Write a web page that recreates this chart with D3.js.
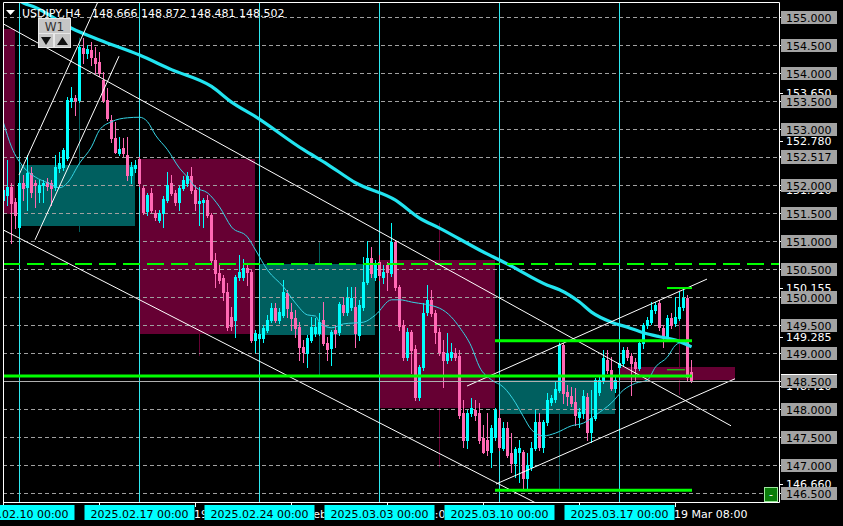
<!DOCTYPE html>
<html><head><meta charset="utf-8">
<script src="https://cdn.jsdelivr.net/npm/d3@7"></script>
<style>html,body{margin:0;padding:0;background:#000;overflow:hidden}svg{display:block}text{font-family:"DejaVu Sans",sans-serif;font-size:11px}</style>
</head><body>
<svg id="c" width="843" height="526"></svg>
<script>
// ---------- DATA ----------
const symbolTitle = "USDJPY,H4";
const titlePrices = "148.666 148.872 148.481 148.502";
const firstBar = -4; // bar index of the first visible H4 candle (0 = 2025.02.10 00:00)
const barOpen = [151.73,151.82,151.96,151.70,
151.25,152.04,151.96,152.21,152.04,151.88,152.00,152.05,152.04,151.96,
152.30,152.32,152.48,153.50,153.55,153.52,154.45,154.36,154.41,154.27,
154.20,153.88,153.52,153.16,152.84,152.57,152.66,152.54,152.18,152.30,
152.46,151.95,151.54,151.86,151.50,151.38,151.50,151.73,152.04,151.86,
151.70,151.95,152.04,152.16,151.91,151.68,151.70,151.73,151.46,150.66,
150.43,150.34,150.09,149.64,149.59,150.36,150.36,150.52,150.45,149.23,
149.27,149.27,149.41,149.59,149.80,149.59,149.68,150.07,149.73,149.63,
149.46,149.11,149.00,149.23,149.36,149.36,149.59,149.18,149.09,149.41,
149.38,149.86,149.73,149.82,149.82,149.32,149.82,150.27,150.70,150.36,
150.63,150.36,150.57,150.43,150.98,150.18,149.50,148.93,149.38,149.07,
148.21,148.75,149.73,149.95,149.71,149.38,149.02,148.88,148.93,149.00,
148.95,147.93,147.45,147.93,147.98,147.93,147.48,147.45,147.23,147.50,
147.84,147.30,147.66,147.21,147.04,147.23,147.23,146.77,146.96,147.30,
147.77,147.32,147.77,148.13,148.18,148.34,149.14,148.30,148.23,148.13,
147.86,147.93,148.21,147.59,147.84,148.30,148.52,148.88,148.70,148.38,
148.75,148.82,149.05,148.95,148.84,148.73,149.18,149.50,149.55,149.77,
149.89,149.45,149.29,149.63,149.54,149.63,149.82,149.98,148.666];
const barHigh = [152.00,152.45,152.04,151.77,
152.09,152.18,152.54,152.32,152.09,152.09,152.09,152.13,152.09,152.54,
152.59,152.66,153.57,153.75,153.61,154.50,154.63,154.50,154.55,154.46,
154.38,154.02,153.73,153.25,153.13,152.86,152.84,152.86,152.41,152.45,
152.50,151.98,151.86,151.95,151.55,151.55,151.80,152.23,152.18,151.91,
151.98,152.16,152.23,152.32,152.00,151.96,151.77,151.82,151.50,150.79,
150.57,150.39,150.25,149.82,150.39,150.75,150.68,150.57,150.48,149.41,
149.41,149.50,149.68,149.89,149.89,149.80,150.30,150.13,149.89,149.77,
149.55,149.23,149.32,149.64,149.63,149.71,149.91,149.29,149.41,149.50,
149.91,150.00,150.18,150.18,150.18,149.95,150.71,151.00,150.89,150.66,
150.75,150.57,150.63,151.32,151.02,150.21,149.59,149.45,149.41,149.14,
148.79,149.89,150.21,150.13,149.77,149.45,149.23,149.36,149.18,149.09,
149.05,148.16,147.98,148.20,148.16,148.11,147.71,147.93,147.71,148.02,
147.98,147.77,147.77,147.57,147.32,147.45,147.27,147.21,147.41,147.98,
147.93,147.80,148.29,148.25,148.48,149.18,149.18,148.43,148.39,148.38,
148.02,148.34,148.29,148.34,148.55,148.61,149.05,149.05,148.93,148.61,
148.88,149.11,149.11,149.00,148.91,149.20,149.54,149.64,149.91,149.91,
149.95,149.50,149.68,149.71,150.00,150.09,150.155,150.04,148.872];
const barLow = [151.64,151.64,150.96,151.23,
151.16,151.73,151.55,151.79,151.61,151.70,151.70,151.91,151.64,151.91,
152.23,152.27,152.45,153.39,153.25,153.48,154.18,154.27,154.14,154.00,
153.95,153.48,153.16,152.77,152.57,152.54,152.52,152.09,152.04,152.23,
151.98,151.48,151.46,151.52,151.38,151.34,151.25,151.70,151.82,151.64,
151.55,151.91,151.98,151.86,151.55,151.29,151.25,151.43,150.63,150.18,
150.25,149.95,149.41,149.41,149.29,150.30,150.30,150.21,149.20,149.02,
149.14,149.20,149.38,149.55,149.55,149.54,149.64,149.64,149.41,149.29,
148.88,148.84,148.75,149.20,149.30,149.32,149.14,148.88,148.79,149.11,
149.32,149.68,149.68,149.77,149.11,149.23,149.77,150.23,150.36,150.30,
150.30,150.25,150.13,150.38,150.13,149.41,148.88,148.88,148.64,148.16,
148.16,148.70,149.68,149.66,149.18,148.96,148.39,148.82,148.88,148.88,
147.84,147.32,147.30,147.88,147.80,147.39,147.21,147.18,146.96,147.45,
147.27,147.27,147.14,146.88,146.79,146.70,146.59,146.59,146.91,147.27,
147.27,147.23,147.71,148.07,148.13,148.30,148.11,148.07,148.05,147.71,
147.68,147.84,147.45,147.41,147.80,148.25,148.46,148.64,148.34,148.30,
148.70,148.77,148.88,148.25,148.52,148.70,149.09,149.45,149.52,149.71,
149.41,149.11,149.23,149.45,149.48,149.59,149.77,148.52,148.481];
const barClose = [151.91,151.96,151.68,151.46,
152.04,151.95,152.21,151.88,152.00,152.00,152.04,151.98,151.95,152.32,
152.39,152.63,153.52,153.55,153.52,154.46,154.36,154.43,154.29,154.18,
154.00,153.52,153.20,152.84,152.59,152.64,152.57,152.18,152.32,152.36,
152.04,151.52,151.82,151.55,151.43,151.50,151.75,152.00,151.86,151.70,
151.95,152.09,152.16,151.91,151.68,151.71,151.73,151.46,150.66,150.43,
150.30,150.09,149.46,149.48,150.36,150.45,150.52,150.45,149.23,149.36,
149.34,149.45,149.59,149.80,149.59,149.73,150.09,149.80,149.63,149.45,
149.11,149.02,149.27,149.46,149.46,149.55,149.18,149.07,149.38,149.36,
149.88,149.73,149.98,149.98,149.36,149.86,150.27,150.70,150.43,150.57,
150.39,150.45,150.45,150.98,150.18,149.48,148.93,149.38,149.05,148.21,
148.75,149.71,149.95,149.71,149.38,149.02,148.88,149.00,149.02,148.93,
147.89,147.45,147.93,148.02,147.89,147.45,147.23,147.27,147.66,147.98,
147.32,147.66,147.18,147.04,147.29,147.30,146.77,147.00,147.30,147.77,
147.32,147.77,148.16,148.20,148.36,149.14,148.29,148.23,148.11,147.89,
147.95,148.23,147.59,147.84,148.52,148.52,148.91,148.70,148.38,148.52,
148.82,149.05,148.93,148.82,148.73,149.18,149.50,149.59,149.77,149.86,
149.46,149.29,149.63,149.50,149.64,149.82,149.98,148.57,148.502];

// slow moving average (bar index, price)
const maSlowBar   = [-1,1,4,13,20,30,38,48,53,59,71,77,84,94,100,105,115,123,132,135,140,143,148,152,156,160,164,168];
const maSlowPrice = [155.33,155.25,155.17,154.80,154.59,154.32,154.06,153.76,153.48,153.22,152.63,152.37,152.04,151.73,151.41,151.23,150.84,150.55,150.21,150.13,149.91,149.73,149.55,149.46,149.36,149.29,149.23,149.11];
// fast moving average (bar index, price)
const maFastBar   = [-4,-2,1,4,7,10,12,15,18,20,23,27,30,32,34,37,40,42,44,47,50,53,57,59,62,66,69,72,74,75,78,81,86,89,93,95,98,105,108,110,113,115,118,121,124,126,128,131,134,138,141,144,148,151,154,157,159,162,164,166,168];
const maFastPrice = [153.11,152.68,152.32,152.14,152.04,151.95,152.04,152.39,152.68,152.98,153.13,153.20,153.21,153.13,152.89,152.63,152.30,152.14,151.96,151.86,151.61,151.25,151.07,150.84,150.48,150.18,149.89,149.68,149.66,149.55,149.45,149.52,149.55,149.68,149.95,149.95,149.91,149.80,149.64,149.46,149.11,148.75,148.52,148.39,148.11,147.86,147.63,147.52,147.57,147.70,147.75,147.89,148.11,148.34,148.46,148.52,148.75,148.93,149.14,149.20,149.11];

// weekly (W1) candles drawn as boxes
const weekStartBar = [-30,0,30,60,90,120,150];
const weekOpen  = [154.79,151.27,152.46,149.32,150.66,147.91,148.75];
const weekHigh  = [154.90,154.63,152.50,150.98,151.32,149.21,150.155];
const weekLow   = [151.10,151.16,148.95,148.60,146.96,146.57,148.25];
const weekClose = [151.48,152.36,149.34,150.59,148.02,148.52,148.52];

// trend lines: [bar, price] -> [bar, price]
const trendFrom = [[-4,154.88],[-4,151.20],[119.25,146.66],[112,148.41],[0,152.18],[4,151.02]];
const trendTo   = [[178,147.70],[129.25,146.32],[179,148.54],[172,150.32],[19.6,155.25],[25,154.30]];

// green horizontal levels
const greenPrice = [148.59,149.22,146.55,150.16,148.70];
const greenFrom  = [-4,119,119,162,162];
const greenTo    = [168.25,168.25,168.25,168.25,166.5];
const greenWidth = [3,3,3,2,1];
const greenDashedPrice = 150.59;
const bidPrice = 148.502;

// axes
const priceTicks = ["155.000","154.500","154.000","153.500","153.000","152.500","152.000","151.500","151.000","150.500","150.000","149.500","149.000","148.500","148.000","147.500","147.000","146.500"];
const extraBoxLabels = ["152.517"];
const lineLabels = ["153.650","152.780","151.910","150.155","149.285","148.410","146.660"];
const separatorBars = [0,30,60,90,120,150];
const separatorLabels = ["2025.02.10 00:00","2025.02.17 00:00","2025.02.24 00:00","2025.03.03 00:00","2025.03.10 00:00","2025.03.17 00:00"];
const timeTickBars = [-4,20,44,68,92,116,140,164];
const timeTickLabels = ["7 Feb 2025","13 Feb 08:00","19 Feb 08:00","25 Feb 08:00","3 Mar 08:00","7 Mar 08:00","13 Mar 08:00","19 Mar 08:00"];

// ---------- DRAW ----------
const BULL="#00ffff", BEAR="#ff69b4", TEAL="#005f5f", CRIM="#660033";
const svg = d3.select("#c");
const x = d3.scaleLinear().domain([0,150]).range([19,619]);
const y = d3.scaleLinear().domain([146.5,155]).range([493,17]);
const PL=3, PR=779, PT=2, PB=502;

svg.append("rect").attr("width",843).attr("height",526).attr("fill","#000");
const defs = svg.append("defs");
defs.append("clipPath").attr("id","plot").append("rect")
  .attr("x",PL+1).attr("y",PT+1).attr("width",PR-PL-1).attr("height",PB-PT-1);
const g = svg.append("g").attr("clip-path","url(#plot)");

// weekly boxes
weekStartBar.forEach((k,i)=>{
  const bull = weekClose[i]>=weekOpen[i];
  const col = bull?TEAL:CRIM;
  const x0 = x(k), x1 = x(k+29);
  const yt = Math.round(y(Math.max(weekOpen[i],weekClose[i]))), yb = Math.round(y(Math.min(weekOpen[i],weekClose[i])));
  g.append("line").attr("x1",x(k+15)+0.5).attr("x2",x(k+15)+0.5)
    .attr("y1",y(weekHigh[i])).attr("y2",y(weekLow[i])).attr("stroke",col).attr("stroke-width",1);
  g.append("rect").attr("x",x0).attr("y",yt).attr("width",x1-x0).attr("height",Math.max(1,yb-yt)).attr("fill",col);
});

// grid
priceTicks.forEach(t=>{
  const yy = Math.round(y(+t))+0.5;
  g.append("line").attr("x1",PL).attr("x2",PR).attr("y1",yy).attr("y2",yy)
    .attr("stroke","#a0a0a0").attr("stroke-width",1).attr("stroke-dasharray","4,3");
});

// period separators
separatorBars.forEach(k=>{
  g.append("line").attr("x1",x(k)+0.5).attr("x2",x(k)+0.5).attr("y1",PT).attr("y2",PB)
    .attr("stroke","#30e8f0").attr("stroke-width",1);
});

// candles
const bars = barOpen.map((o,i)=>({k:firstBar+i,o,h:barHigh[i],l:barLow[i],c:barClose[i]}));
const cg = g.append("g");
bars.forEach(b=>{
  const col = b.c>=b.o?BULL:BEAR;
  const cx = x(b.k);
  cg.append("line").attr("x1",cx+0.5).attr("x2",cx+0.5)
    .attr("y1",Math.round(y(b.h))).attr("y2",Math.round(y(b.l))+1).attr("stroke",col).attr("stroke-width",1);
  const yt = Math.round(y(Math.max(b.o,b.c))), yb = Math.round(y(Math.min(b.o,b.c)));
  cg.append("rect").attr("x",cx-1).attr("y",yt).attr("width",3).attr("height",Math.max(1,yb-yt+1)).attr("fill",col);
});

// moving averages
const lineGen = d3.line().x(d=>x(d[0])+0.5).y(d=>y(d[1])).curve(d3.curveMonotoneX);
g.append("path").datum(maFastBar.map((k,i)=>[k,maFastPrice[i]])).attr("d",lineGen)
  .attr("fill","none").attr("stroke","#35d4e4").attr("stroke-width",1);
g.append("path").datum(maSlowBar.map((k,i)=>[k,maSlowPrice[i]])).attr("d",lineGen)
  .attr("fill","none").attr("stroke","#22e4f0").attr("stroke-width",3.2);

// green dashed level
g.append("line").attr("x1",PL).attr("x2",PR).attr("y1",y(greenDashedPrice)).attr("y2",y(greenDashedPrice))
  .attr("stroke","#00ff00").attr("stroke-width",2).attr("stroke-dasharray","17,7");

// trend lines
trendFrom.forEach((p,i)=>{
  const q = trendTo[i];
  g.append("line").attr("x1",x(p[0])).attr("y1",y(p[1])).attr("x2",x(q[0])).attr("y2",y(q[1]))
    .attr("stroke","#ffffff").attr("stroke-width",1);
});

// green solid levels
greenPrice.forEach((p,i)=>{
  g.append("line").attr("x1",x(greenFrom[i])).attr("x2",x(greenTo[i])).attr("y1",y(p)).attr("y2",y(p))
    .attr("stroke","#00ff00").attr("stroke-width",greenWidth[i]);
});

// bid line
g.append("line").attr("x1",PL).attr("x2",PR).attr("y1",Math.round(y(bidPrice))+0.5).attr("y2",Math.round(y(bidPrice))+0.5)
  .attr("stroke","#b0b0b0").attr("stroke-width",1);

// frame
svg.append("path").attr("d",`M${PL+0.5},${PT+0.5}H${PR+0.5}V${PB+0.5}H${PL+0.5}Z`)
  .attr("fill","none").attr("stroke","#fff").attr("stroke-width",1);

// right axis: price boxes geometry
const boxLabels = priceTicks.concat(extraBoxLabels);
const boxSpans = boxLabels.map(t=>{const yy=Math.round(y(+t)); return [yy-6, yy+7];}).sort((a,b)=>a[0]-b[0]);
const gapClip = defs.append("clipPath").attr("id","axisGaps");
let prevEnd = 0;
boxSpans.forEach(s=>{ if (s[0]>prevEnd) gapClip.append("rect").attr("x",779).attr("y",prevEnd).attr("width",64).attr("height",s[0]-prevEnd); prevEnd=Math.max(prevEnd,s[1]); });
gapClip.append("rect").attr("x",779).attr("y",prevEnd).attr("width",64).attr("height",526-prevEnd);

lineLabels.forEach(t=>{
  const yy = y(+t);
  svg.append("line").attr("x1",PR).attr("x2",PR+4).attr("y1",Math.round(yy)+0.5).attr("y2",Math.round(yy)+0.5).attr("stroke","#fff");
  svg.append("text").attr("x",786).attr("y",yy+4).attr("fill","#fff").attr("clip-path","url(#axisGaps)").text(t);
});
boxLabels.forEach(t=>{
  const yy = Math.round(y(+t));
  svg.append("line").attr("x1",PR).attr("x2",PR+4).attr("y1",yy+0.5).attr("y2",yy+0.5).attr("stroke","#fff");
  svg.append("rect").attr("x",781).attr("y",yy-6).attr("width",56).attr("height",13).attr("fill","#a3a3a3");
  svg.append("text").attr("x",786).attr("y",yy+4.5).attr("fill","#000").text(t);
});
{
  const yy = Math.round(y(bidPrice));
  svg.append("line").attr("x1",781).attr("x2",837).attr("y1",yy-6.5).attr("y2",yy-6.5).attr("stroke","#fff");
}

// time axis: only the parts of the tick labels lying in the gaps between the separator boxes stay visible
const sepHalf = 55;
const gaps = separatorBars.map((k,i)=>[x(k)+0.5+sepHalf, i<separatorBars.length-1 ? x(separatorBars[i+1])+0.5-sepHalf : 843]);
const timeClip = defs.append("clipPath").attr("id","timeGaps");
gaps.forEach(gp=>timeClip.append("rect").attr("x",gp[0]).attr("y",503).attr("width",gp[1]-gp[0]).attr("height",23));
timeTickBars.forEach((k,i)=>{
  svg.append("line").attr("x1",x(k)+0.5).attr("x2",x(k)+0.5).attr("y1",PB).attr("y2",PB+5).attr("stroke","#fff");
  const full = svg.append("text").attr("x",x(k)-1).attr("y",518).attr("fill","#fff").text(timeTickLabels[i]);
  const node = full.node(), label = timeTickLabels[i];
  const runs = []; let cur = null;
  for (let c=0;c<label.length;c++){
    const s = node.getStartPositionOfChar(c).x, e = node.getEndPositionOfChar(c).x, m=(s+e)/2;
    const vis = gaps.some(gp=>m>=gp[0]-1 && m<=gp[1]+1);
    if (vis){ if(!cur){cur={x:s,t:""};runs.push(cur);} cur.t+=label[c]; } else cur=null;
  }
  full.remove();
  runs.forEach(r=>{ if(r.t.trim()) svg.append("text").attr("x",r.x).attr("y",518).attr("fill","#fff")
    .attr("clip-path","url(#timeGaps)").style("white-space","pre").text(r.t); });
});
separatorBars.forEach((k,i)=>{
  const cx = x(k)+0.5;
  svg.append("rect").attr("x",cx-sepHalf).attr("y",505).attr("width",2*sepHalf).attr("height",15).attr("fill","#00ffff");
  svg.append("text").attr("x",cx).attr("y",517.5).attr("text-anchor","middle").attr("fill","#000").text(separatorLabels[i]);
});

// title
svg.append("path").attr("d","M6,10H15L10.5,15Z").attr("fill","#fff");
svg.append("text").attr("x",22).attr("y",17).attr("fill","#fff").text(symbolTitle);
svg.append("text").attr("x",92).attr("y",17).attr("fill","#fff").text(titlePrices);

// W1 button
const wb = svg.append("g");
wb.append("rect").attr("x",38.5).attr("y",18.5).attr("width",32).attr("height",15).attr("fill","#c6c6c6").attr("stroke","#e8e8e8");
wb.append("text").attr("x",54.5).attr("y",30.5).attr("text-anchor","middle").attr("fill","#333").style("font-size","12px").text("W1");
wb.append("rect").attr("x",38.5).attr("y",33.5).attr("width",15).attr("height",14).attr("fill","#c6c6c6").attr("stroke","#e8e8e8");
wb.append("rect").attr("x",54.5).attr("y",33.5).attr("width",16).attr("height",14).attr("fill","#c6c6c6").attr("stroke","#e8e8e8");
wb.append("path").attr("d","M41,37H51L46,45Z").attr("fill","#111");
wb.append("path").attr("d","M57,45H68L62.5,37Z").attr("fill","#111");

// green "-" button
svg.append("rect").attr("x",764.5).attr("y",487.5).attr("width",13).attr("height",14).attr("fill","#0a7d0a").attr("stroke","#9be89b");
svg.append("text").attr("x",771).attr("y",498).attr("text-anchor","middle").attr("fill","#fff").text("-");
</script>
</body></html>
